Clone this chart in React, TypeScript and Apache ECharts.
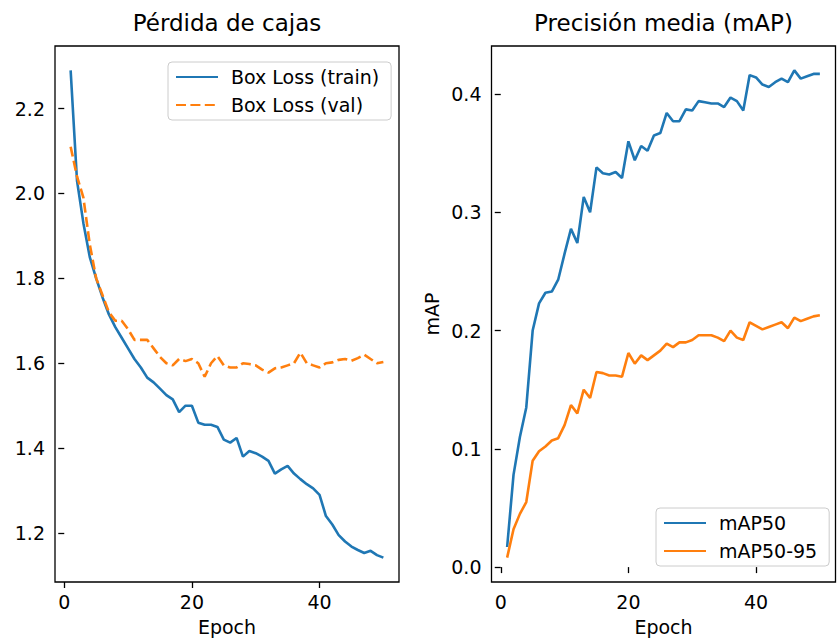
import React, { useEffect, useRef } from "react";
import * as echarts from "echarts";

const epochs = [
  1, 2, 3, 4, 5, 6, 7, 8, 9, 10, 11, 12, 13, 14, 15, 16, 17, 18, 19, 20, 21, 22, 23, 24, 25,
  26, 27, 28, 29, 30, 31, 32, 33, 34, 35, 36, 37, 38, 39, 40, 41, 42, 43, 44, 45, 46, 47, 48, 49, 50,
];

const boxLossTrain = [
  2.29, 2.03, 1.93, 1.85, 1.8, 1.755, 1.715, 1.685, 1.66, 1.635, 1.61, 1.59, 1.566, 1.555, 1.54,
  1.525, 1.515, 1.485, 1.5, 1.5, 1.46, 1.455, 1.455, 1.45, 1.42, 1.413, 1.424, 1.38, 1.393, 1.388,
  1.38, 1.37, 1.34, 1.35, 1.358, 1.34, 1.327, 1.315, 1.305, 1.29, 1.24, 1.22, 1.195, 1.18, 1.168,
  1.16, 1.153, 1.158, 1.148, 1.142,
];

const boxLossVal = [
  2.11, 2.04, 1.99, 1.88, 1.8, 1.76, 1.72, 1.7, 1.7, 1.68, 1.655, 1.655, 1.655, 1.635, 1.615,
  1.6, 1.595, 1.61, 1.605, 1.61, 1.6, 1.568, 1.6, 1.617, 1.595, 1.59, 1.59, 1.6, 1.598, 1.595,
  1.585, 1.578, 1.588, 1.59, 1.595, 1.6, 1.625, 1.6, 1.595, 1.59, 1.6, 1.602, 1.608, 1.61, 1.606,
  1.612, 1.62, 1.61, 1.6, 1.603,
];

const map50 = [
  0.017, 0.078, 0.11, 0.135, 0.2, 0.223, 0.232, 0.233, 0.243, 0.265, 0.286, 0.274, 0.313, 0.3, 0.338,
  0.333, 0.332, 0.334, 0.329, 0.36, 0.344, 0.356, 0.352, 0.365, 0.367, 0.384, 0.377, 0.377, 0.387,
  0.386, 0.394, 0.393, 0.392, 0.392, 0.389, 0.397, 0.394, 0.386, 0.416, 0.414, 0.408, 0.406, 0.41,
  0.413, 0.41, 0.42, 0.413, 0.415, 0.417, 0.417,
];

const map5095 = [
  0.008, 0.032, 0.045, 0.055, 0.09, 0.098, 0.102, 0.107, 0.109, 0.12, 0.137, 0.13, 0.15, 0.143,
  0.165, 0.164, 0.162, 0.162, 0.161, 0.181, 0.172, 0.179, 0.175, 0.179, 0.183, 0.189, 0.186, 0.19,
  0.19, 0.192, 0.196, 0.196, 0.196, 0.194, 0.191, 0.2, 0.194, 0.192, 0.207, 0.204, 0.201, 0.203,
  0.205, 0.207, 0.202, 0.211, 0.208, 0.21, 0.212, 0.213,
];

const xTicks = [0, 20, 40];
const lossTicks = [1.2, 1.4, 1.6, 1.8, 2.0, 2.2];
const mapTicks = [0.0, 0.1, 0.2, 0.3, 0.4];

const titles = ["Pérdida de cajas", "Precisión media (mAP)"];
const seriesNames = ["Box Loss (train)", "Box Loss (val)", "mAP50", "mAP50-95"];

const C0 = "#1f77b4";
const C1 = "#ff7f0e";
const FONT = "DejaVu Sans";
const FS = 19;

function range(arrs: number[][]) {
  const all = arrs.flat();
  const lo = Math.min(...all);
  const hi = Math.max(...all);
  const m = (hi - lo) * 0.05;
  return [lo - m, hi + m];
}

export default function App() {
  const ref = useRef<HTMLDivElement>(null);
  useEffect(() => {
    if (!ref.current) return;
    const chart = echarts.init(ref.current, undefined, { renderer: "svg" });
    const xr = range([epochs]);
    const lr = range([boxLossTrain, boxLossVal]);
    const mr = range([map50, map5095]);
    const grids = [
      { left: 55, top: 46, width: 344, height: 536 },
      { left: 491.5, top: 46, width: 344, height: 536 },
    ];
    const xAxis = (gi: number) => ({
      type: "value",
      gridIndex: gi,
      min: xr[0],
      max: xr[1],
      name: "Epoch",
      nameLocation: "middle",
      nameGap: 35,
      nameTextStyle: { fontFamily: FONT, fontSize: FS, color: "#000" },
      axisLine: { show: false },
      axisTick: {
        show: true,
        inside: false,
        length: 6,
        customValues: xTicks,
        lineStyle: { color: "#000", width: 1.3 },
      },
      axisLabel: {
        customValues: xTicks,
        margin: 10,
        fontFamily: FONT,
        fontSize: FS,
        color: "#000",
      },
      splitLine: { show: false },
    });
    const yAxis = (gi: number, r: number[], ticks: number[], name?: string) => ({
      type: "value",
      gridIndex: gi,
      min: r[0],
      max: r[1],
      name: name || "",
      nameLocation: "middle",
      nameGap: 50,
      nameRotate: 90,
      nameTextStyle: { fontFamily: FONT, fontSize: FS, color: "#000" },
      axisLine: { show: false },
      axisTick: {
        show: true,
        inside: false,
        length: 6,
        customValues: ticks,
        lineStyle: { color: "#000", width: 1.3 },
      },
      axisLabel: {
        customValues: ticks,
        margin: 10,
        fontFamily: FONT,
        fontSize: FS,
        color: "#000",
        formatter: (v: number) => v.toFixed(1),
      },
      splitLine: { show: false },
    });
    const pairs = (vals: number[]) => epochs.map((e, i) => [e, vals[i]]);
    const lineSeries = (name: string, vals: number[], gi: number, color: string, dashed: boolean) => ({
      type: "line",
      name,
      xAxisIndex: gi,
      yAxisIndex: gi,
      data: pairs(vals),
      showSymbol: false,
      symbol: "none",
      color,
      lineStyle: { color, width: 2.6, type: dashed ? [10, 4.4] : "solid" },
      emphasis: { disabled: true },
    });
    const legendBase = {
      orient: "vertical",
      itemWidth: 42,
      itemHeight: 14,
      itemGap: 8,
      padding: [5, 12, 5, 7],
      borderColor: "#cccccc",
      borderWidth: 1,
      borderRadius: 4,
      backgroundColor: "rgba(255,255,255,0.8)",
      itemStyle: { opacity: 0 },
      textStyle: { fontFamily: FONT, fontSize: FS, color: "#000", lineHeight: 20, padding: [0, 0, 0, 8] },
      selectedMode: false,
    };
    chart.setOption({
      animation: false,
      backgroundColor: "#fff",
      grid: grids.map((g) => ({
        ...g,
        show: true,
        borderColor: "#000",
        borderWidth: 1.3,
        backgroundColor: "transparent",
        containLabel: false,
        outerBoundsMode: "none",
      })),
      xAxis: [xAxis(0), xAxis(1)],
      yAxis: [yAxis(0, lr, lossTicks), yAxis(1, mr, mapTicks, "mAP")],
      legend: [
        { ...legendBase, left: 168, top: 62, data: [seriesNames[0], seriesNames[1]] },
        { ...legendBase, left: 656, top: 508, data: [seriesNames[2], seriesNames[3]] },
      ],
      series: [
        lineSeries(seriesNames[0], boxLossTrain, 0, C0, false),
        lineSeries(seriesNames[1], boxLossVal, 0, C1, true),
        lineSeries(seriesNames[2], map50, 1, C0, false),
        lineSeries(seriesNames[3], map5095, 1, C1, false),
      ],
      graphic: [
        {
          type: "text",
          x: 227,
          y: 23,
          style: { text: titles[0], font: `23px "${FONT}"`, fill: "#000", textAlign: "center", textVerticalAlign: "middle" },
        },
        {
          type: "text",
          x: 663.5,
          y: 23,
          style: { text: titles[1], font: `23px "${FONT}"`, fill: "#000", textAlign: "center", textVerticalAlign: "middle" },
        },
      ],
    });
    return () => chart.dispose();
  }, []);
  return (
    <div
      ref={ref}
      style={{ position: "absolute", left: 0, top: 0, width: 838, height: 639, background: "#fff" }}
    />
  );
}
